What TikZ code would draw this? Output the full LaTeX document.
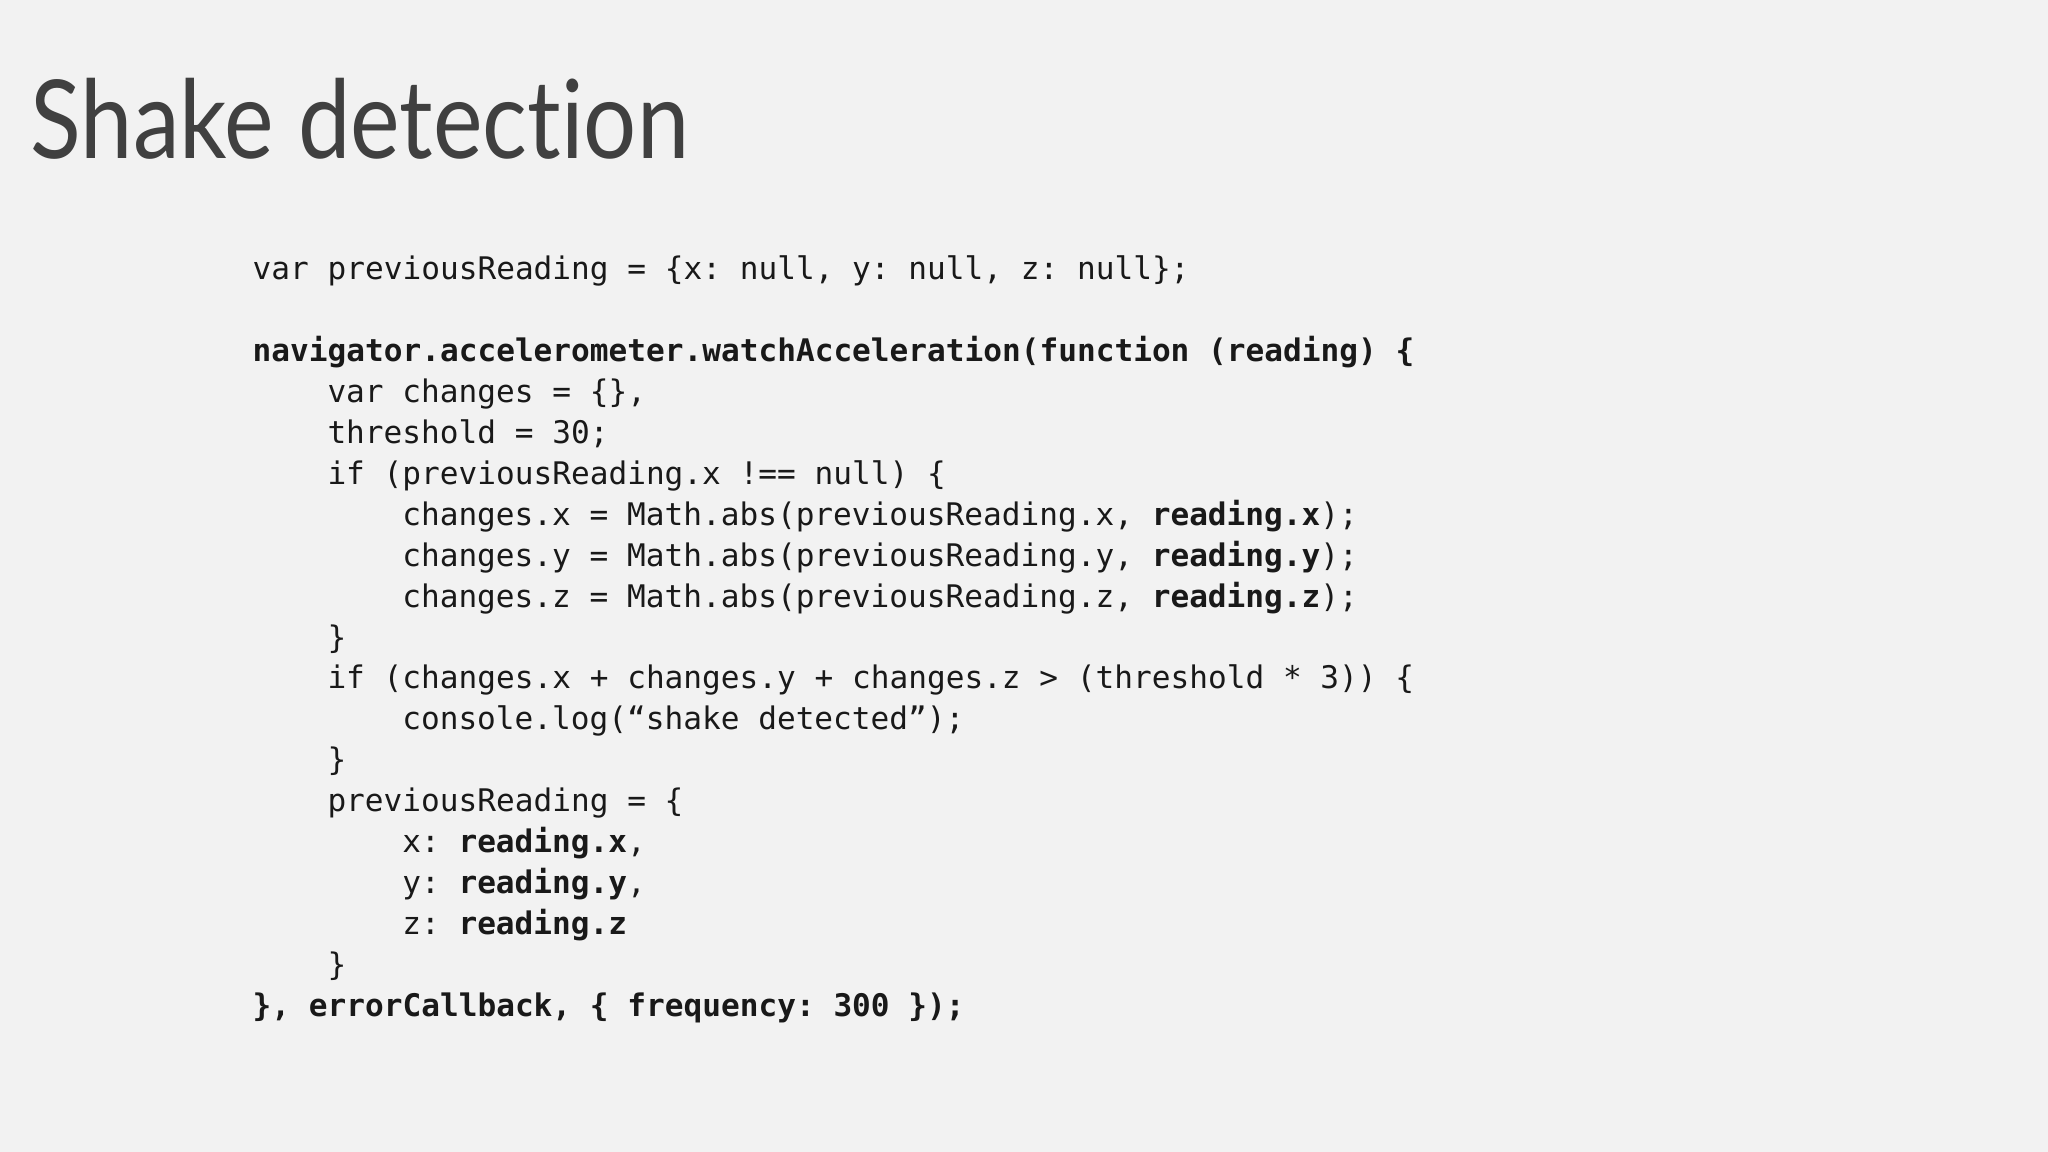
\documentclass[tikz,border=0pt]{standalone}
\usepackage{fontspec}
\setmainfont{Lato}
\newfontfamily\titlefont[Ligatures=NoCommon,FakeStretch=0.86]{Lato}
\setmonofont{DejaVu Sans Mono}
\begin{document}
\begin{tikzpicture}[x=0.01cm,y=-0.01cm,
  code/.style={anchor=base west,inner sep=0pt,font=\ttfamily\fontsize{8.85}{10}\selectfont,text=black!90},
  title/.style={anchor=base west,inner sep=0pt,font=\titlefont\fontsize{31}{36}\selectfont,text=black!75}]
\fill[black!5] (0,0) rectangle (2048,1152);
\useasboundingbox (0,0) rectangle (2048,1152);
\node[title] (t) at (30,159) {Shake detection};
\def\lh{40.9}
\def\ind{74.8}
\node[code] (l0) at (252,280) {var previousReading = \{x: null, y: null, z: null\};};
\node[code,font=\ttfamily\bfseries\fontsize{8.85}{10}\selectfont] (l2) at (252,280+2*\lh) {navigator.accelerometer.watchAcceleration(function (reading) \{};
\node[code] (l3) at (252+\ind,280+3*\lh) {var changes = \{\},};
\node[code] (l4) at (252+\ind,280+4*\lh) {threshold = 30;};
\node[code] (l5) at (252+\ind,280+5*\lh) {if (previousReading.x !== null) \{};
\node[code] (l6) at (252+2*\ind,280+6*\lh) {changes.x = Math.abs(previousReading.x, \textbf{reading.x});};
\node[code] (l7) at (252+2*\ind,280+7*\lh) {changes.y = Math.abs(previousReading.y, \textbf{reading.y});};
\node[code] (l8) at (252+2*\ind,280+8*\lh) {changes.z = Math.abs(previousReading.z, \textbf{reading.z});};
\node[code] (l9) at (252+\ind,280+9*\lh) {\}};
\node[code] (l10) at (252+\ind,280+10*\lh) {if (changes.x + changes.y + changes.z > (threshold * 3)) \{};
\node[code] (l11) at (252+2*\ind,280+11*\lh) {console.log(“shake detected”);};
\node[code] (l12) at (252+\ind,280+12*\lh) {\}};
\node[code] (l13) at (252+\ind,280+13*\lh) {previousReading = \{};
\node[code] (l14) at (252+2*\ind,280+14*\lh) {x: \textbf{reading.x},};
\node[code] (l15) at (252+2*\ind,280+15*\lh) {y: \textbf{reading.y},};
\node[code] (l16) at (252+2*\ind,280+16*\lh) {z: \textbf{reading.z}};
\node[code] (l17) at (252+\ind,280+17*\lh) {\}};
\node[code,font=\ttfamily\bfseries\fontsize{8.85}{10}\selectfont] (l18) at (252,280+18*\lh) {\}, errorCallback, \{ frequency: 300 \});};
\end{tikzpicture}
\end{document}
